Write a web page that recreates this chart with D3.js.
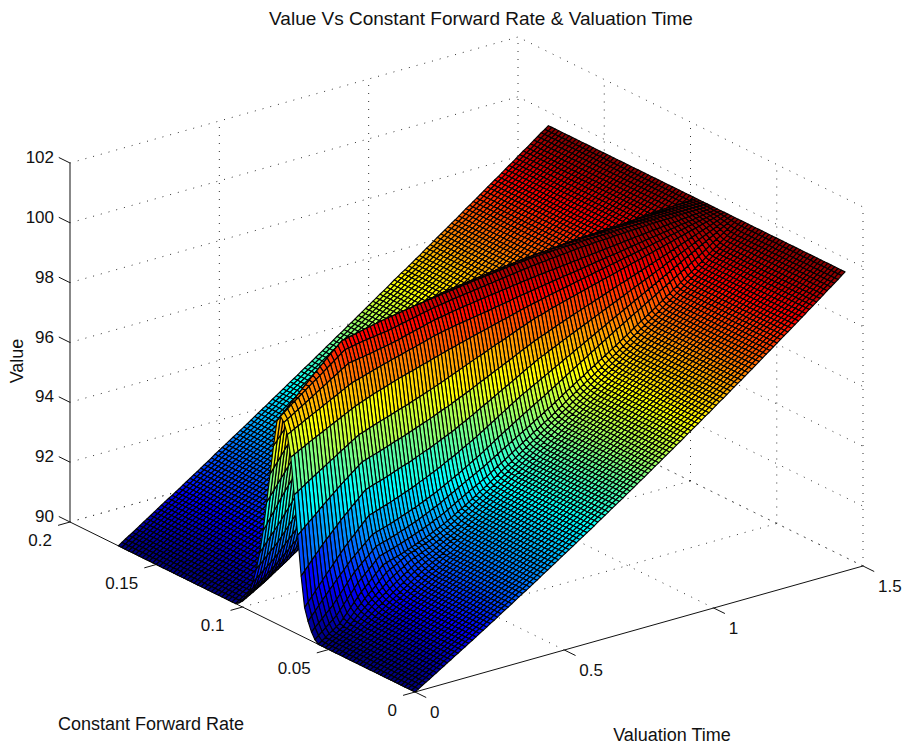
<!DOCTYPE html>
<html>
<head>
<meta charset="utf-8">
<style>
  html, body { margin: 0; padding: 0; background: #fff; }
  text { font-family: "Liberation Sans", Arial, sans-serif; fill: #111; }
</style>
</head>
<body>
<svg id="chart" width="906" height="745"></svg>
<script src="https://cdn.jsdelivr.net/npm/d3@7"></script>
<script>
var timeValues = [0,0.012,0.024,0.036,0.048,0.06,0.072,0.084,0.096,0.108,0.12,0.132,0.144,0.156,0.168,0.18,0.192,0.204,0.216,0.228,0.24,0.252,0.264,0.276,0.288,0.3,0.312,0.324,0.336,0.348,0.36,0.372,0.384,0.396,0.408,0.42,0.432,0.444,0.456,0.468,0.48,0.492,0.504,0.516,0.528,0.54,0.552,0.564,0.576,0.588,0.6,0.612,0.624,0.636,0.648,0.66,0.672,0.684,0.696,0.708,0.72,0.732,0.744,0.756,0.768,0.78,0.792,0.804,0.816,0.828,0.84,0.852,0.864,0.876,0.888,0.9,0.912,0.924,0.936,0.948,0.96,0.972,0.984,0.996,1.008,1.02,1.032,1.044,1.056,1.068,1.08,1.092,1.104,1.116,1.128,1.14,1.152,1.164,1.176,1.188,1.2,1.212,1.224,1.236,1.248,1.26,1.272,1.284,1.296,1.308,1.32,1.332,1.344,1.356,1.368,1.38,1.392,1.404,1.416,1.428,1.44];
var rateValues = [0,0.002,0.004,0.006,0.008,0.01,0.012,0.014,0.016,0.018,0.02,0.022,0.024,0.026,0.028,0.03,0.032,0.034,0.036,0.038,0.04,0.042,0.044,0.046,0.048,0.05,0.052,0.054,0.056,0.058,0.06,0.062,0.064,0.066,0.068,0.07,0.072,0.074,0.076,0.078,0.08,0.082,0.084,0.086,0.088,0.09,0.092,0.094,0.096,0.098,0.1,0.102,0.104,0.106,0.108,0.11,0.112,0.114,0.116,0.118,0.12,0.122,0.124,0.126,0.128,0.13,0.132,0.134,0.136,0.138,0.14,0.142,0.144,0.146,0.148,0.15,0.152,0.154,0.156,0.158,0.16,0.162,0.164,0.166,0.168,0.17,0.172];

/* values are hundredths above 90 */
var valueBase = 90;

/* flat part of the surface, low rates side and high rates side */
var nearFloor = [0,7,15,22,29,37,44,52,59,67,74,82,89,97,104,112,119,127,135,142,150,158,165,173,181,189,196,204,212,220,228,235,243,251,259,267,275,283,291,299,307,315,323,331,339,347,355,363,371,379,387,396,404,412,420,429,437,445,453,462,470,478,487,495,503,512,520,529,537,546,554,563,571,580,588,597,606,614,623,631,640,649,657,666,675,684,692,701,710,719,728,736,745,754,763,772,781,790,799,808,817,826,835,844,853,862,871,880,889,898,908,917,926,935,944,954,963,972,981,991,1000];
var farFloor = [0,8,16,24,31,39,47,55,63,71,79,87,95,103,111,118,126,134,142,150,158,166,174,182,190,198,206,215,223,231,239,247,255,263,271,279,287,295,304,312,320,328,336,345,353,361,369,378,386,394,402,411,419,427,435,444,452,460,469,477,485,494,502,510,519,527,535,544,552,561,569,578,586,595,603,611,620,629,637,646,653,662,670,679,687,696,705,713,722,731,739,748,756,765,773,782,791,800,808,817,825,834,843,852,860,869,877,886,895,904,912,921,930,939,947,956,965,974,983,991,1000];

/* rows where the surface leaves the floor: rate, first time index, values */
var wallRates = [0.04,0.042,0.044,0.046,0.048,0.05,0.052,0.054,0.056,0.058,0.06,0.062,0.064,0.066,0.068,0.07,0.072,0.074,0.076,0.078,0.08,0.082,0.084,0.086,0.088,0.09,0.092,0.094,0.096,0.098,0.1,0.102];
var wallStart = [14,10,9,6,6,6,6,6,0,0,0,0,0,0,0,0,0,0,0,0,0,0,0,0,0,0,0,0,0,0,0,0];
var wallValues = [
[105,113,120,128,136,144,151,159,167,175,182],
[75,82,90,98,106,114,121,129,137,145,153,161,168,176,184,191,198,205,212],
[68,75,83,91,99,107,115,123,131,139,147,155,163,170,178,186,193,201,208,215,223,230],
[44,52,60,68,76,85,93,101,109,118,126,134,142,150,158,166,174,182,190,197,204,211,218,225,232,239,246,254,261,268,276,284,291,299,307],
[44,53,62,70,79,88,97,105,113,122,130,139,147,155,163,172,180,188,196,202,209,215,221,228,234,241,248,256,263,270,277,285,293,301,308,316,324,332,340,348,356,364,372],
[44,53,63,72,83,92,102,111,120,129,137,146,155,163,171,179,187,195,203,209,215,221,226,232,238,245,251,258,265,271,278,286,294,302,309,317,325,333,341,349,357,365,373,381,389,398,406,414,422,430,439,447,455,464,472],
[44,55,65,76,87,97,108,118,128,138,148,158,168,176,183,191,198,206,213,218,223,228,233,238,243,249,255,262,268,274,280,288,296,303,311,318,326,334,342,349,357,365,373,381,390,398,406,415,423,431,440,448,456,465,473,481,490,498,506,515,523,531,540,548,556,565,573,582,590,599,607,616,624,633,642,650,659,667,676],
[46,58,70,82,94,106,118,129,140,151,163,174,185,192,198,205,212,218,225,229,233,238,242,246,250,256,262,267,273,279,285,292,300,307,315,322,330,338,345,353,361,368,376,384,392,401,409,417,425,433,442,450,458,467,475,483,492,500,508,517,525,533,542,550,558,567,575,584,592,601,609,618,626,635,643,652,660,669,677,686,694,703,712,720,729,738,746,755,764,772,781],
[0,8,17,25,33,42,50,64,78,93,107,121,135,147,158,170,182,193,205,209,213,216,220,224,228,233,237,242,247,251,256,262,268,274,279,285,291,298,305,313,320,327,334,342,350,358,365,373,381,389,397,406,414,422,430,438,446,455,463,471,479,487,496,504,512,521,529,537,546,554,562,571,579,587,596,604,612,621,629,637,646,654,662,671,679,688,696,705,713,722,731,739,748,756,765,773,782,791,800,809,818,827,836,844,853,862,871,880,889],
[10,20,30,40,50,60,70,85,100,115,130,145,160,171,183,194,205,217,228,232,236,239,243,247,251,256,260,265,269,274,278,284,289,295,301,306,312,319,326,333,340,347,354,361,367,374,381,387,394,402,410,418,425,433,441,449,457,465,473,481,489,497,504,512,520,527,535,544,552,561,569,578,586,594,602,611,619,627,635,643,651,660,668,676,684,692,701,709,717,726,734,742,751,759,767,776,784,793,802,811,819,828,837,846,855,864,872,881,890,899,908,918,927,936,945,954,963,973,982,991,1000],
[30,42,53,65,77,88,100,115,130,145,160,175,190,201,212,223,233,244,255,259,263,266,270,274,278,283,287,292,297,301,306,312,317,323,329,334,340,347,354,361,367,374,381,388,394,401,407,414,420,428,435,443,450,458,465,472,479,487,494,501,508,516,523,531,538,546,553,561,569,577,585,593,601,609,617,624,632,640,648,655,663,671,679,686,694,702,710,718,726,734,743,751,759,767,775,783,791,800,808,817,825,834,842,851,859,868,876,885,893,902,911,920,929,938,947,955,964,973,982,991,1000],
[60,74,88,103,117,131,145,158,172,185,198,212,225,236,247,258,268,279,290,294,298,301,305,309,313,318,322,327,331,336,340,346,351,357,362,368,373,380,386,393,399,406,412,419,427,434,441,448,455,463,471,479,487,495,503,511,518,526,534,541,549,556,563,571,578,585,592,600,608,615,623,630,638,646,653,661,669,676,684,692,699,707,715,722,730,737,745,752,759,766,774,781,788,795,803,810,817,824,832,839,846,854,861,868,876,883,890,898,905,913,921,929,937,945,953,960,968,976,984,992,1000],
[100,115,130,145,160,175,190,204,218,233,247,261,275,287,299,312,324,336,348,352,356,360,364,368,372,377,381,386,391,395,400,405,411,416,421,427,432,438,444,451,457,463,469,476,483,490,496,503,510,518,525,533,541,548,556,564,571,579,587,594,602,609,615,622,629,635,642,649,655,662,669,675,682,689,695,702,709,715,722,729,735,742,749,755,762,769,775,782,788,795,801,808,815,821,828,834,841,848,854,861,868,874,881,888,894,901,908,914,921,928,934,941,947,954,960,967,974,980,987,993,1000],
[200,214,228,243,257,271,285,298,310,323,335,348,360,371,383,394,405,417,428,432,436,440,444,448,452,456,461,465,470,474,478,483,488,493,498,503,507,513,518,524,529,535,540,546,553,559,565,572,578,585,592,599,605,612,619,626,633,640,646,653,660,667,674,681,687,694,701,707,712,718,724,729,735,741,746,752,757,763,768,774,779,785,790,796,801,807,812,818,823,829,834,840,845,851,856,862,867,873,878,884,889,895,901,906,912,917,923,928,934,939,945,950,956,961,967,972,978,983,989,994,1000],
[330,341,352,363,373,384,395,406,416,427,437,448,458,468,477,487,496,506,515,519,523,527,531,535,539,543,547,552,556,560,564,569,573,578,582,587,591,596,601,606,611,616,620,626,631,637,642,648,653,659,665,671,676,682,688,694,699,705,711,716,722,728,734,740,745,751,757,762,767,771,776,781,786,791,795,800,804,809,813,818,822,827,831,836,840,844,849,853,858,862,867,871,875,880,884,889,893,897,902,906,911,915,920,924,929,933,938,942,947,951,956,960,965,969,974,978,982,987,991,996,1000],
[460,468,476,484,492,500,508,516,523,531,539,546,554,562,569,577,585,592,600,604,608,613,617,621,625,629,633,637,641,645,649,653,657,662,666,670,674,679,683,688,693,697,702,707,712,717,722,727,732,737,742,747,751,756,761,766,771,776,780,785,790,795,800,805,809,814,819,823,827,830,834,838,842,845,849,852,855,859,862,865,869,872,875,879,882,885,889,892,895,898,902,905,908,911,915,918,921,924,928,931,934,938,941,944,948,951,954,958,961,964,968,971,974,977,981,984,987,990,994,997,1000],
[580,586,593,599,605,612,618,624,630,636,642,648,654,660,666,672,678,684,690,695,699,704,708,713,717,721,725,729,733,737,741,745,748,752,755,759,762,766,769,773,777,780,784,787,791,794,797,801,804,807,810,814,817,820,823,826,829,833,836,839,842,845,848,852,855,858,861,864,867,869,872,875,878,881,883,886,888,891,893,896,899,901,904,906,909,912,914,917,919,922,924,927,929,932,934,937,939,942,944,947,949,952,955,957,960,962,965,967,970,973,975,978,980,983,985,988,990,993,995,998,1000],
[650,656,663,669,675,682,688,694,700,706,713,719,725,731,737,744,750,756,762,766,769,773,777,780,784,788,791,795,798,802,805,808,811,815,818,821,824,828,831,835,838,842,845,847,850,852,854,857,859,861,863,865,867,869,871,873,875,877,880,882,884,886,888,891,893,895,897,899,901,903,905,907,909,911,913,915,917,919,921,922,924,926,928,930,932,934,936,938,940,942,944,945,947,949,951,953,955,957,959,961,963,965,967,968,970,972,974,976,978,980,982,983,985,987,989,991,993,995,996,998,1000],
[685,693,700,708,715,723,730,738,745,753,761,768,776,784,791,799,807,814,822,824,826,828,830,832,834,836,839,841,843,846,848,851,854,857,861,864,867,870,873,876,880,883,886,888,890,892,895,897,899,901,903,905,906,908,910,912,913,915,917,918,920,922,923,925,927,928,930,932,933,935,936,938,939,940,942,943,944,946,947,948,950,951,952,954,955,956,958,959,960,962,963,964,966,967,968,970,971,972,974,975,976,977,979,980,981,982,984,985,986,987,988,990,991,992,993,994,995,997,998,999,1000],
[700,709,718,728,737,746,755,764,773,782,790,799,808,817,826,835,844,853,862,864,866,869,871,873,875,877,878,880,882,883,885,888,890,893,896,898,901,904,906,909,912,914,917,919,921,923,925,927,929,931,932,934,936,937,939,941,942,944,946,947,949,951,952,954,956,957,959,961,962,964,965,967,968,969,970,972,973,974,975,976,977,979,980,981,982,983,983,984,985,985,986,987,987,988,989,989,990,991,991,992,992,993,993,994,994,995,995,996,996,996,997,997,997,998,998,998,999,999,999,1000,1000],
[680,692,703,715,727,738,750,762,773,785,797,808,820,831,842,853,863,874,885,888,891,894,896,899,902,905,907,910,912,915,917,919,921,923,925,927,929,931,933,935,936,938,940,942,943,945,947,948,950,952,953,955,957,958,960,962,963,965,966,968,969,971,972,974,975,977,978,979,980,981,983,984,985,986,986,987,987,988,989,989,990,990,991,991,992,992,993,993,993,994,994,994,995,995,995,996,996,996,997,997,997,997,998,998,998,998,998,999,999,999,999,999,999,999,1000,1000,1000,1000,1000,1000,1000],
[590,605,620,635,650,665,680,693,707,720,733,747,760,772,783,795,807,818,830,837,843,850,857,863,870,874,878,883,887,891,895,898,902,905,908,912,915,918,920,923,925,928,930,933,935,938,940,943,945,947,948,950,952,953,955,957,958,960,962,963,965,967,968,970,971,973,974,975,977,978,979,981,982,983,984,984,985,986,987,988,988,989,990,991,992,992,993,993,994,994,995,995,995,996,996,997,997,997,997,998,998,998,998,998,998,999,999,999,999,999,999,999,999,999,1000,1000,1000,1000,1000,1000,1000],
[490,507,523,540,557,573,590,607,623,640,657,673,690,703,717,730,743,757,770,778,787,795,803,812,820,827,833,840,847,853,860,864,868,873,877,881,885,888,892,895,898,902,905,908,912,915,918,922,925,927,929,932,934,936,938,940,942,944,946,948,950,952,953,955,957,958,960,962,963,965,967,968,970,971,973,974,975,976,978,979,980,981,983,984,985,986,986,987,988,988,989,990,991,991,992,992,993,993,994,994,995,995,996,996,996,997,997,998,998,998,998,999,999,999,999,999,999,1000,1000,1000,1000],
[390,407,423,440,457,473,490,507,523,540,557,573,590,605,620,635,650,665,680,690,700,710,720,730,740,748,757,765,773,782,790,796,802,808,813,819,825,829,833,838,842,846,850,853,857,860,863,867,870,873,876,879,882,885,888,891,893,896,899,902,905,907,910,913,915,918,920,923,925,928,930,933,935,937,939,941,943,945,948,950,952,954,956,958,960,962,963,965,967,968,970,972,973,975,977,978,980,981,983,984,985,986,988,989,990,991,993,994,995,995,996,996,997,997,998,998,998,999,999,1000,1000],
[290,308,327,345,363,382,400,417,433,450,467,483,500,515,530,545,560,575,590,600,610,620,630,640,650,658,667,675,683,692,700,707,713,720,727,733,740],
[210,225,240,255,270,285,300,317,333,350,367,383,400,415,430,445,460,475,490,500,510,520,530,540,550,558,567,575,583,592,600,607,613,620,627,633,640],
[150,162,173,185,197,208,220,235,250,265,280,295,310,323,337,350,363,377,390,400,410,420,430,440,450,458,467,475,483,492,500,507,513,520,527,533,540],
[100,110,120,130,140,150,160,173,185,198,210,223,235,248,260,273,285,298,310,318,327,335,343,352,360,368,377,385,393,402,410,417,423,430,437,443,450],
[65,73,82,90,98,107,115,126,137,148,158,169,180,190,200,210,220,230,240,248,257,265,273,282,290,297,303,310,317,323,330,337,343,350,357,363,370],
[40,48,55,63,70,78,85,94,103,113,122,131,140,148,157,165,173,182,190,198,207,215,223,232,240,248,255,263,270,278,285,291,297,303,308,314,320],
[20,27,34,41,48,55,62,70,78,86,94,102,110,118,127,135,143,152,160,168,175,183,190,198,205,213,221,229,236,244,252,260,267,275,283,290,298],
[8,15,22,29,36,43,50,58,66,73,81,89,96,104,112,120,128,135,143,151,159,167,174,182,190,198,206,214,222,230,238]
];

var timeTicks = [0, 0.5, 1, 1.5];
var rateTicks = [0, 0.05, 0.1, 0.15, 0.2];
var valueTicks = [90, 92, 94, 96, 98, 100, 102];

var svg = d3.select('#chart');

/* box edges on screen, MATLAB orthographic view */
var origin = [415, 692];
var timeVec = [448, -126];
var rateVec = [-345, -170];
var valueVec = [0, -359];

var timeScale = d3.scaleLinear().domain([0, 1.5]).range([0, 1]);
var rateScale = d3.scaleLinear().domain([0, 0.2]).range([0, 1]);
var valueScale = d3.scaleLinear().domain([90, 102]).range([0, 1]);

function project(t, r, v) {
  var a = timeScale(t), b = rateScale(r), c = valueScale(v);
  return [
    origin[0] + a * timeVec[0] + b * rateVec[0] + c * valueVec[0],
    origin[1] + a * timeVec[1] + b * rateVec[1] + c * valueVec[1]
  ];
}

var jet = d3.scaleLinear()
  .domain([90, 91.25, 93.75, 96.25, 98.75, 100])
  .range(['#000080', '#0000ff', '#00ffff', '#ffff00', '#ff0000', '#800000'])
  .interpolate(d3.interpolateRgb)
  .clamp(true);

var line = d3.line();

/* We look up a surface value: wall row if there is one, floor otherwise */
function surfaceValue(i, j) {
  var r = rateValues[i];
  var w = wallRates.findIndex(function(d) { return Math.abs(d - r) < 1e-6; });
  var floor = r > 0.086 ? farFloor : nearFloor;
  var v = floor[j];
  if(w >= 0) {
    var row = wallValues[w][j - wallStart[w]];
    if(row !== undefined) { v = row; }
  }
  return valueBase + v / 100;
}

/* We generate the dotted grid on the back walls and the floor */
var gridLines = [];
valueTicks.forEach(function(v) {
  gridLines.push([project(0, 0.2, v), project(1.5, 0.2, v), project(1.5, 0, v)]);
});
timeTicks.slice(1).forEach(function(t) {
  gridLines.push([project(t, 0.2, 90), project(t, 0.2, 102)]);
  gridLines.push([project(t, 0, 90), project(t, 0.2, 90)]);
});
rateTicks.slice(0, 4).forEach(function(r) {
  gridLines.push([project(1.5, r, 90), project(1.5, r, 102)]);
});
rateTicks.slice(1).forEach(function(r) {
  gridLines.push([project(0, r, 90), project(1.5, r, 90)]);
});

svg.append('g')
  .selectAll('path')
  .data(gridLines)
  .enter().append('path')
    .attr('d', function(d) { return line(d); })
    .attr('fill', 'none')
    .attr('stroke', '#333')
    .attr('stroke-width', 1)
    .attr('stroke-dasharray', '1 7');

/* We append the axis lines and ticks */
var axes = svg.append('g').attr('stroke', '#111').attr('fill', 'none');
axes.append('path')
  .attr('stroke', '#555')
  .attr('stroke-width', 1.4)
  .attr('d', line([project(0, 0.2, 90), project(0, 0.2, 102)]));
axes.append('path')
  .attr('d', line([project(0, 0, 90), project(0, 0.2, 90)]));
axes.append('path')
  .attr('d', line([project(0, 0, 90), project(1.5, 0, 90)]));

valueTicks.forEach(function(v) {
  axes.append('path').attr('d', line([project(0, 0.2, v), project(0, 0.2 + 0.0065, v)]));
});
rateTicks.forEach(function(r) {
  axes.append('path').attr('d', line([project(0, r, 90), project(-0.04, r, 90)]));
});
timeTicks.forEach(function(t) {
  axes.append('path').attr('d', line([project(t, 0, 90), project(t, -0.0065, 90)]));
});

/* We append the surface, far cells first */
var cells = [];
for(var i = rateValues.length - 2; i >= 0; i--) {
  for(var j = timeValues.length - 2; j >= 0; j--) {
    var p = [[i, j], [i, j + 1], [i + 1, j + 1], [i + 1, j]].map(function(c) {
      return project(timeValues[c[1]], rateValues[c[0]], surfaceValue(c[0], c[1]));
    });
    cells.push({ points: p, value: surfaceValue(i, j) });
  }
}

svg.append('g')
  .attr('stroke', '#000')
  .attr('stroke-width', 1.15)
  .attr('stroke-linejoin', 'round')
  .selectAll('path')
  .data(cells)
  .enter().append('path')
    .attr('d', function(d) { return line(d.points) + 'Z'; })
    .attr('fill', function(d) { return jet(d.value); });

/* We append the tick labels and the titles */
var labels = svg.append('g').attr('font-size', 17);

valueTicks.forEach(function(v) {
  var p = project(0, 0.2, v);
  labels.append('text')
    .attr('x', p[0] - 16)
    .attr('y', p[1])
    .attr('text-anchor', 'end')
    .text(v);
});
rateTicks.forEach(function(r) {
  var p = project(0, r, 90);
  labels.append('text')
    .attr('x', p[0] - 18)
    .attr('y', p[1] + 24)
    .attr('text-anchor', 'end')
    .text(r);
});
timeTicks.forEach(function(t) {
  var p = project(t, 0, 90);
  labels.append('text')
    .attr('x', p[0] + 15)
    .attr('y', p[1] + 26)
    .text(t);
});

labels.append('text')
  .attr('x', 481).attr('y', 25)
  .attr('font-size', 19)
  .attr('text-anchor', 'middle')
  .text('Value Vs Constant Forward Rate & Valuation Time');
labels.append('text')
  .attr('x', 151).attr('y', 730)
  .attr('font-size', 18)
  .attr('text-anchor', 'middle')
  .text('Constant Forward Rate');
labels.append('text')
  .attr('x', 672).attr('y', 741)
  .attr('font-size', 18)
  .attr('text-anchor', 'middle')
  .text('Valuation Time');
labels.append('text')
  .attr('transform', 'translate(23,361) rotate(-90)')
  .attr('font-size', 18)
  .attr('text-anchor', 'middle')
  .text('Value');
</script>
</body>
</html>
